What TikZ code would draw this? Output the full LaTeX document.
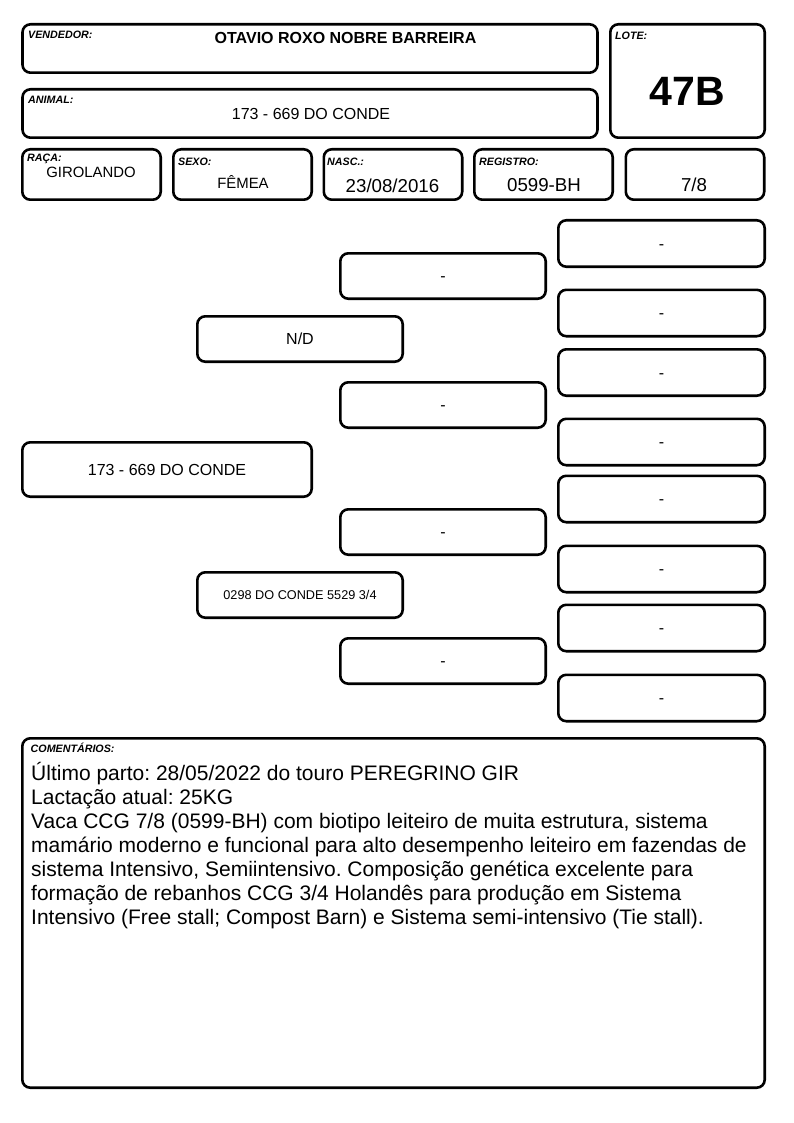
\documentclass[tikz,border=0pt]{standalone}
\usepackage{fontspec}
\setmainfont{Liberation Sans}
\frenchspacing
\begin{document}
\begin{tikzpicture}[x=1pt,y=-1pt,
  box/.style={draw, line width=2.6pt, rounded corners=8pt, inner sep=0pt},
  lbl/.style={anchor=base west, inner sep=0pt, font=\fontsize{10.7}{12}\selectfont\bfseries\itshape},
  val/.style={anchor=base, inner sep=0pt, font=\fontsize{18.7}{22}\selectfont},
  ped/.style={box, font=\fontsize{16}{19}\selectfont, text height=11.5pt, text depth=0pt},
  c4/.style={ped, minimum width=206.4pt, minimum height=46.4pt},
  c3/.style={ped, minimum width=205.4pt, minimum height=45.4pt},
  c2/.style={ped, minimum width=205.4pt, minimum height=45.4pt},
  small/.style={box, minimum width=138.4pt, minimum height=50.4pt}]
\useasboundingbox[fill=white] (0,0) rectangle (794,1123);
% header boxes
\node[box, minimum width=575pt, minimum height=48.4pt] (vend) at (310,48.5) {};
\node[box, minimum width=575pt, minimum height=48.4pt] (anim) at (310,113.5) {};
\node[box, minimum width=154.4pt, minimum height=113.4pt] (lote) at (687.5,81) {};
\node[small] (raca) at (91.5,174.5) {};
\node[small] (sexo) at (242.5,174.5) {};
\node[small] (nasc) at (393,174.5) {};
\node[small] (reg) at (543.5,174.5) {};
\node[small] (frac) at (695,174.5) {};
% header texts
\node[lbl] (vendl) at (28,39) {VENDEDOR:};
\node[anchor=base, inner sep=0pt, font=\fontsize{16}{19}\selectfont\bfseries] (vendv) at (345.5,43.5) {OTAVIO ROXO NOBRE BARREIRA};
\node[lbl] (animl) at (28,103.7) {ANIMAL:};
\node[anchor=base, inner sep=0pt, font=\fontsize{16}{19}\selectfont] (animv) at (311,119.3) {173 - 669 DO CONDE};
\node[lbl] (lotel) at (615,39.3) {LOTE:};
\node[anchor=base, inner sep=0pt, font=\fontsize{41}{46}\selectfont\bfseries] (lotev) at (687.5,105.7) {47B};
\node[lbl] (racal) at (27,162) {RAÇA:};
\node[anchor=base, inner sep=0pt, font=\fontsize{14.9}{18}\selectfont] (racav) at (91,177.7) {GIROLANDO};
\node[lbl] (sexol) at (178,165.5) {SEXO:};
\node[anchor=base, inner sep=0pt, font=\fontsize{14.9}{18}\selectfont] (sexov) at (243,189) {FÊMEA};
\node[lbl] (nascl) at (327,165.5) {NASC.:};
\node[val] (nascv) at (392.5,192.3) {23/08/2016};
\node[lbl] (regl) at (479,165.7) {REGISTRO:};
\node[val] (regv) at (544,192) {0599-BH};
\node[val] (fracv) at (694,192) {7/8};
% pedigree column 4
\node[c4] (g1) at (661.5,243.5) {-};
\node[c4] (g2) at (661.5,313) {-};
\node[c4] (g3) at (661.5,372.5) {-};
\node[c4] (g4) at (661.5,442) {-};
\node[c4] (g5) at (661.5,499) {-};
\node[c4] (g6) at (661.5,569) {-};
\node[c4] (g7) at (661.5,628) {-};
\node[c4] (g8) at (661.5,698) {-};
% column 3
\node[c3] (p1) at (443,276) {-};
\node[c3] (p2) at (443,405) {-};
\node[c3] (p3) at (443,532) {-};
\node[c3] (p4) at (443,661) {-};
% column 2
\node[c2] (sire) at (300,339) {N/D};
\node[c2, font=\fontsize{12.7}{15}\selectfont, text height=9.1pt] (dam) at (300,595) {0298 DO CONDE 5529 3/4};
% column 1
\node[ped, minimum width=289.4pt, minimum height=54.4pt] (self) at (167,469.5) {173 - 669 DO CONDE};
% comments
\node[box, minimum width=742.4pt, minimum height=349.4pt] (com) at (393.5,913) {};
\node[lbl] (coml) at (30.5,752.5) {COMENTÁRIOS:};
\node[anchor=base west, inner sep=0pt, font=\fontsize{21}{24}\selectfont] (comt) at (31,780.5) {\parbox[t]{740pt}{\raggedright
Último parto: 28/05/2022 do touro PEREGRINO GIR\\
Lactação atual: 25KG\\
Vaca CCG 7/8 (0599-BH) com biotipo leiteiro de muita estrutura, sistema\\
mamário moderno e funcional para alto desempenho leiteiro em fazendas de\\
sistema Intensivo, Semiintensivo. Composição genética excelente para\\
formação de rebanhos CCG 3/4 Holandês para produção em Sistema\\
Intensivo (Free stall; Compost Barn) e Sistema semi-intensivo (Tie stall).}};
\end{tikzpicture}
\end{document}
